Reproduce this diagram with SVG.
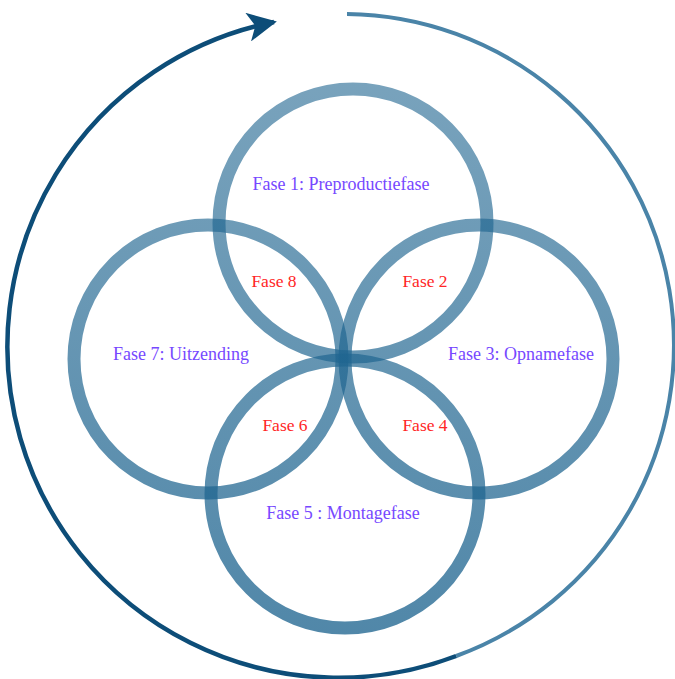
<svg xmlns="http://www.w3.org/2000/svg" width="675" height="679" viewBox="0 0 675 679">
  <style>
    .ring { fill: none; stroke: url(#ringGrad); stroke-width: 13; }
    .phase { font-family: "Liberation Serif", "DejaVu Serif", serif; font-size: 18px; fill: #7648ff; text-anchor: middle; }
    .trans { font-family: "Liberation Serif", "DejaVu Serif", serif; font-size: 17.5px; fill: #ff2626; text-anchor: middle; }
    .cycleDark { fill: none; stroke: #0d4d78; stroke-width: 4.5; }
    .cycleLight { fill: none; stroke: #4a84a8; stroke-width: 4; }
  </style>
  <defs>
    <linearGradient id="ringGrad" gradientUnits="userSpaceOnUse" x1="0" y1="80" x2="0" y2="640">
      <stop offset="0" stop-color="#1f6590" stop-opacity="0.6"/>
      <stop offset="1" stop-color="#1f6590" stop-opacity="0.78"/>
    </linearGradient>
    <marker id="arrow" viewBox="0 0 10 10" refX="9" refY="5" markerWidth="6.5" markerHeight="6.5" orient="auto">
      <path d="M0,0 L10,5 L0,10 L2.5,5 z" fill="#0d4d78"/>
    </marker>
  </defs>
  <rect width="675" height="679" fill="#ffffff"/>

  <g id="connectors">
    <path class="cycleLight" d="M347,14 A331,331 0 0 1 456.2,656"/>
    <path class="cycleDark" d="M456.2,656 A331,331 0 1 1 274,22" marker-end="url(#arrow)"/>
  </g>

  <g id="fase1">
    <circle class="ring" cx="353" cy="223" r="134"/>
    <text class="phase" x="341" y="190">Fase 1: Preproductiefase</text>
  </g>
  <g id="fase3">
    <circle class="ring" cx="479" cy="359" r="134"/>
    <text class="phase" x="521" y="360">Fase 3: Opnamefase</text>
  </g>
  <g id="fase5">
    <circle class="ring" cx="345" cy="494" r="134"/>
    <text class="phase" x="343" y="519">Fase 5 : Montagefase</text>
  </g>
  <g id="fase7">
    <circle class="ring" cx="208" cy="359" r="134"/>
    <text class="phase" x="181" y="360">Fase 7: Uitzending</text>
  </g>
  <g id="fase2"><text class="trans" x="425" y="287">Fase 2</text></g>
  <g id="fase4"><text class="trans" x="425" y="431">Fase 4</text></g>
  <g id="fase6"><text class="trans" x="285" y="431">Fase 6</text></g>
  <g id="fase8"><text class="trans" x="274" y="287">Fase 8</text></g>
</svg>
